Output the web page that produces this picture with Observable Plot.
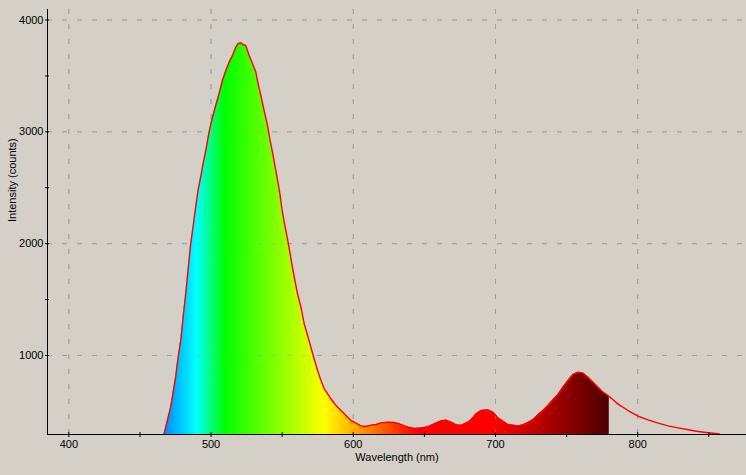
<!DOCTYPE html>
<html>
<head>
<meta charset="utf-8">
<script src="https://cdn.jsdelivr.net/npm/d3@7"></script>
<script src="https://cdn.jsdelivr.net/npm/@observablehq/plot@0.6"></script>
<style>
  html, body { margin: 0; padding: 0; background: #d4d0c8; }
</style>
</head>
<body>
<div id="chart"></div>
<script>
// Spectrum readings (wavelength in nm, intensity in counts)
const wavelength = [466.9,469.3,471.6,475.1,477.0,478.7,480.6,482.2,483.8,485.7,487.3,489.2,490.8,492.7,494.4,496.3,498.6,501.0,503.3,505.6,508.0,510.4,512.7,515.1,517.4,519.0,520.9,522.5,524.4,526.8,529.2,531.5,533.1,535.0,537.3,539.7,541.5,543.2,545.1,546.8,548.4,550.0,551.7,553.5,555.2,556.8,558.5,560.8,563.2,565.5,567.9,570.2,572.5,574.9,577.3,579.6,582.0,584.3,586.6,589.0,591.3,594.9,598.4,601.9,605.4,608.9,612.5,616.0,619.5,624.2,628.9,632.4,635.9,639.4,643.0,647.7,652.4,657.0,661.8,665.3,668.8,672.3,675.8,678.2,681.5,684.1,686.4,689.9,694.6,698.2,701.7,705.2,708.7,712.3,715.8,719.3,722.8,726.3,729.9,733.4,736.9,740.4,743.9,747.4,751.0,754.5,758.0,761.5,765.1,768.6,772.1,775.6,779.2,780.0,782.7,786.2,793.2,800.3,807.3,814.4,821.4,828.4,835.5,842.5,849.6,857.3];
const counts = [294,419,538,806,1000,1134,1373,1552,1760,1999,2147,2326,2475,2594,2714,2833,2997,3131,3236,3340,3459,3548,3623,3683,3757,3790,3795,3780,3772,3683,3608,3533,3429,3325,3191,3057,2923,2818,2684,2565,2446,2297,2178,2058,1939,1820,1700,1552,1432,1283,1179,1074,970,866,776,702,657,613,573,538,511,463,419,395,371,365,377,383,398,404,401,389,371,356,347,353,362,389,416,421,404,380,377,389,410,443,479,508,514,493,443,413,383,377,371,380,401,425,470,508,553,604,651,717,776,830,851,842,806,761,717,672,642,632,604,565,508,457,425,395,371,353,336,320,309,298];

// Fill (coloured) region ends at this wavelength
const fillEnd = 780;

// Axis ticks
const xMajor = [400, 500, 600, 700, 800];
const xMinor = [450, 550, 650, 750, 850];
const yMajor = [1000, 2000, 3000, 4000];
const yMinor = [1500, 2500, 3500];

const X_DOMAIN = [385, 876.5];
const Y_DOMAIN = [293.6, 4094];

const xLabel = "Wavelength (nm)";
const yLabel = "Intensity (counts)";

const data = wavelength.map((w, i) => ({w, c: counts[i]}));
const fillData = data.filter(d => d.w <= fillEnd);

// Visible-spectrum colour for a wavelength
function specColor(l) {
  let r, g, b;
  if (l < 440) { r = -(l - 440) / 60; g = 0; b = 1; }
  else if (l < 490) { r = 0; g = (l - 440) / 50; b = 1; }
  else if (l < 510) { r = 0; g = 1; b = -(l - 510) / 20; }
  else if (l < 580) { r = (l - 510) / 70; g = 1; b = 0; }
  else if (l < 645) { r = 1; g = -(l - 645) / 65; b = 0; }
  else { r = 1; g = 0; b = 0; }
  let f = 1;
  if (l > 700) f = 0.3 + 0.7 * (780 - l) / 80;
  const c = v => Math.round(255 * Math.max(0, Math.min(1, v * f)));
  return `rgb(${c(r)},${c(g)},${c(b)})`;
}

const gridColor = "#a0a0a0";
const dash = "5,10";

const plot = Plot.plot({
  width: 746,
  height: 475,
  marginLeft: 47,
  marginRight: 0,
  marginTop: 9,
  marginBottom: 41,
  style: {
    background: "#d4d0c8",
    fontFamily: "'Liberation Sans', Arial, sans-serif",
    fontSize: "11px",
    color: "black"
  },
  x: {domain: X_DOMAIN, ticks: xMajor, tickSize: 0, tickPadding: 6, label: null, tickFormat: d => String(d)},
  y: {domain: Y_DOMAIN, ticks: yMajor, tickSize: 0, tickPadding: 4, label: null, tickFormat: d => String(d)},
  marks: [
    Plot.ruleX(xMajor, {x: d => d, stroke: gridColor, strokeDasharray: dash}),
    Plot.ruleY(yMajor, {y: d => d, stroke: gridColor, strokeDasharray: dash}),
    Plot.areaY(fillData, {x: "w", y1: Y_DOMAIN[0], y2: "c", fill: "url(#specGrad)"}),
    Plot.ruleX(xMajor, {x: d => d, stroke: gridColor, strokeOpacity: 0.45, strokeDasharray: dash}),
    Plot.ruleY(yMajor, {y: d => d, stroke: gridColor, strokeOpacity: 0.45, strokeDasharray: dash}),
    Plot.line(data, {x: "w", y: "c", stroke: "#ff0000", strokeWidth: 1.4}),
    Plot.ruleX([X_DOMAIN[0]], {stroke: "black"}),
    Plot.ruleY([Y_DOMAIN[0]], {stroke: "black"}),
    Plot.ruleX(xMajor.concat(xMinor), {x: d => d, y1: Y_DOMAIN[0], y2: Y_DOMAIN[0], insetTop: -2, insetBottom: -3, stroke: "black"}),
    Plot.ruleY(yMajor.concat(yMinor), {y: d => d, x1: X_DOMAIN[0], x2: X_DOMAIN[0], insetLeft: -2, insetRight: -2, stroke: "black"}),
    Plot.text([xLabel], {text: d => d, frameAnchor: "bottom", dy: 26, fill: "black"}),
    Plot.text([yLabel], {text: d => d, frameAnchor: "left", rotate: -90, dx: -35, fill: "black"})
  ]
});

// Spectrum gradient positioned through the x scale
const xs = plot.scale("x");
const ns = "http://www.w3.org/2000/svg";
const svg = plot.tagName.toLowerCase() === "svg" ? plot : plot.querySelector("svg");
const defs = document.createElementNS(ns, "defs");
const grad = document.createElementNS(ns, "linearGradient");
grad.setAttribute("id", "specGrad");
grad.setAttribute("gradientUnits", "userSpaceOnUse");
const g0 = 380, g1 = 780;
grad.setAttribute("x1", xs.apply(g0));
grad.setAttribute("x2", xs.apply(g1));
grad.setAttribute("y1", 0);
grad.setAttribute("y2", 0);
for (let l = g0; l <= g1; l += 2) {
  const s = document.createElementNS(ns, "stop");
  s.setAttribute("offset", ((l - g0) / (g1 - g0)).toFixed(4));
  s.setAttribute("stop-color", specColor(l));
  grad.appendChild(s);
}
defs.appendChild(grad);
svg.insertBefore(defs, svg.firstChild);

document.getElementById("chart").appendChild(plot);
</script>
</body>
</html>
